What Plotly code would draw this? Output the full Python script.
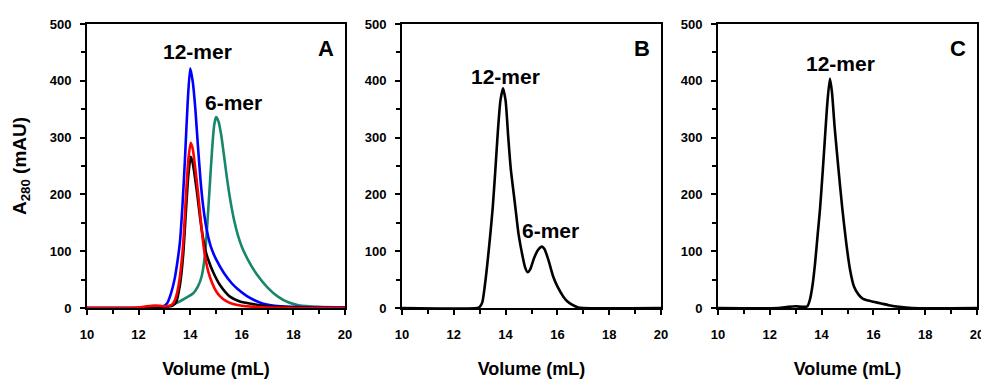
import plotly.graph_objects as go

# ---------------- data ----------------
# Panel A
vol_green = [10, 12.5, 13.0, 13.48, 13.8, 14.12, 14.3, 14.44, 14.55, 14.63, 14.74, 14.85, 14.93, 15.0, 15.1, 15.2, 15.3, 15.4, 15.5, 15.6, 15.7, 15.85, 16.0, 16.25, 16.6, 17.0, 17.4, 17.8, 18.2, 19, 20]
a_green = [0, 0, 1, 9, 17, 26, 38, 55, 85, 125, 202, 280, 322, 336, 328, 305, 272, 237, 205, 178, 155, 128, 108, 84, 58, 36, 20, 10, 5, 2, 1]

vol_blue = [10, 12.0, 12.5, 12.9, 13.1, 13.25, 13.4, 13.5, 13.6, 13.7, 13.8, 13.9, 14.0, 14.1, 14.2, 14.3, 14.4, 14.5, 14.6, 14.7, 14.8, 14.9, 15.0, 15.3, 15.6, 15.85, 16.2, 16.8, 17.5, 18.0, 19.0, 20.0]
a_blue = [0, 0, 1, 2, 8, 25, 52, 80, 115, 180, 265, 360, 422, 398, 350, 285, 225, 180, 148, 125, 108, 96, 86, 62, 44, 33, 21, 8, 3, 2, 1, 1]

vol_black = [10, 12, 12.5, 13.0, 13.3, 13.45, 13.6, 13.73, 13.84, 13.93, 14.02, 14.1, 14.2, 14.28, 14.38, 14.48, 14.6, 14.7, 14.9, 15.16, 15.54, 15.9, 16.3, 17, 18, 20]
a_black = [0, 0, 1, 2, 4, 10, 40, 95, 175, 235, 266, 255, 225, 198, 160, 128, 100, 85, 62, 40, 20, 12, 8, 3, 1, 0]

vol_red = [10, 11.5, 12.0, 12.3, 12.5, 12.8, 13.0, 13.2, 13.3, 13.41, 13.5, 13.6, 13.73, 13.84, 13.93, 14.02, 14.1, 14.2, 14.31, 14.42, 14.53, 14.62, 14.7, 14.85, 15.0, 15.15, 15.4, 15.6, 16.0, 16.5, 17, 18, 20]
a_red = [0, 0, 1, 3, 4, 4, 3, 4, 6, 14, 28, 55, 114, 202, 262, 291, 280, 245, 200, 150, 105, 80, 64, 44, 30, 21, 12, 8, 4, 2, 1, 0, 0]

# Panel B
vol_b = [10, 12.9, 13.0, 13.1, 13.2, 13.3, 13.4, 13.5, 13.6, 13.7, 13.8, 13.9, 14.0, 14.1, 14.2, 14.36, 14.5, 14.66, 14.75, 14.85, 14.95, 15.1, 15.25, 15.4, 15.5, 15.65, 15.84, 16.0, 16.23, 16.4, 16.6, 16.8, 17.0, 20]
a_b = [0, 0, 2, 10, 40, 80, 125, 175, 240, 310, 365, 387, 365, 302, 245, 184, 130, 90, 72, 63, 68, 88, 102, 108, 104, 85, 55, 38, 20, 11, 5, 1, 0, 0]

# Panel C
vol_c = [10, 12.3, 12.7, 13.0, 13.3, 13.45, 13.55, 13.65, 13.75, 13.85, 13.94, 14.05, 14.13, 14.22, 14.32, 14.4, 14.5, 14.65, 14.8, 14.95, 15.1, 15.25, 15.42, 15.6, 15.8, 16.0, 16.3, 16.6, 17.0, 17.5, 20]
a_c = [0, 0, 2, 3, 2, 3, 15, 40, 80, 130, 175, 245, 300, 360, 404, 380, 320, 245, 175, 115, 67, 38, 24, 16, 13, 11, 8, 5, 2, 0, 0]

x_ticks = [10, 12, 14, 16, 18, 20]
y_ticks = [0, 100, 200, 300, 400, 500]
panel_letters = ["A", "B", "C"]
# --------------------------------------

FONT = "Liberation Sans, Arial, sans-serif"
LW = 2.6

fig = go.Figure()

def add(x, y, color, ax):
    fig.add_trace(go.Scatter(
        x=x, y=y, mode="lines",
        line=dict(color=color, width=LW, shape="spline", smoothing=0.6),
        xaxis="x" + ("" if ax == 1 else str(ax)),
        yaxis="y" + ("" if ax == 1 else str(ax)),
        showlegend=False, hoverinfo="skip"))

add(vol_green, a_green, "#17866A", 1)
add(vol_blue, a_blue, "#0000FF", 1)
add(vol_black, a_black, "#000000", 1)
add(vol_red, a_red, "#FF0000", 1)
add(vol_b, a_b, "#000000", 2)
add(vol_c, a_c, "#000000", 3)

W, H = 981, 379
ml, mr, mt, mb = 87, 4, 24, 71
pw = W - ml - mr
domains = [
    [0.0, (345 - ml) / pw],
    [(402 - ml) / pw, (661 - ml) / pw],
    [(718 - ml) / pw, 1.0],
]

tickfont = dict(family=FONT, size=13, color="black", weight="bold")
titlefont = dict(family=FONT, size=18, color="black", weight="bold")

layout = dict(
    width=W, height=H,
    margin=dict(l=ml, r=mr, t=mt, b=mb),
    plot_bgcolor="white", paper_bgcolor="white",
    showlegend=False,
)

for i in range(3):
    sx = "" if i == 0 else str(i + 1)
    layout["xaxis" + sx] = dict(
        domain=domains[i], range=[10, 20], tickvals=x_ticks,
        ticks="outside", ticklen=5, tickwidth=1.5, tickcolor="black",
        minor=dict(dtick=1, tick0=10, ticks="outside", ticklen=4, tickwidth=1.5, tickcolor="black"),
        showline=True, linecolor="black", linewidth=2, mirror=True,
        showgrid=False, zeroline=False, tickfont=tickfont,
        ticklabelstandoff=8, automargin=False, ticklabeloverflow="allow",
        anchor="y" + sx,
        title=dict(text="Volume (mL)", font=titlefont, standoff=26),
    )
    layout["yaxis" + sx] = dict(
        domain=[0, 1], range=[0, 500], tickvals=y_ticks,
        ticks="outside", ticklen=5, tickwidth=1.5, tickcolor="black",
        minor=dict(dtick=50, tick0=0, ticks="outside", ticklen=4, tickwidth=1.5, tickcolor="black"),
        showline=True, linecolor="black", linewidth=2, mirror=True,
        showgrid=False, zeroline=False, tickfont=tickfont,
        ticklabelstandoff=6, automargin=False,
        anchor="x" + sx,
    )

layout["yaxis"]["title"] = dict(text="A<sub>280</sub> (mAU)",
                                font=dict(family=FONT, size=19, color="black", weight="bold"),
                                standoff=18)

ann = []
lab_font = dict(family=FONT, size=22, color="black", weight="bold")
for i, L in enumerate(panel_letters):
    sx = "" if i == 0 else str(i + 1)
    ann.append(dict(text=L, xref="x" + sx + " domain", yref="y" + sx + " domain",
                    x=0.965, y=0.965, xanchor="right", yanchor="top",
                    showarrow=False, font=lab_font))

mer_font = dict(family=FONT, size=21, color="black", weight="bold")
ann += [
    dict(text="12-mer", xref="x", yref="y", x=14.3, y=451, showarrow=False, font=mer_font),
    dict(text="6-mer", xref="x", yref="y", x=15.66, y=361, showarrow=False, font=mer_font),
    dict(text="12-mer", xref="x2", yref="y2", x=14.0, y=407, showarrow=False, font=mer_font),
    dict(text="6-mer", xref="x2", yref="y2", x=15.75, y=137, showarrow=False, font=mer_font),
    dict(text="12-mer", xref="x3", yref="y3", x=14.74, y=430, showarrow=False, font=mer_font),
]
layout["annotations"] = ann

fig.update_layout(**layout)
fig.write_html("out.html", config={"displayModeBar": False},
               post_script="document.body.style.margin='0px';")
